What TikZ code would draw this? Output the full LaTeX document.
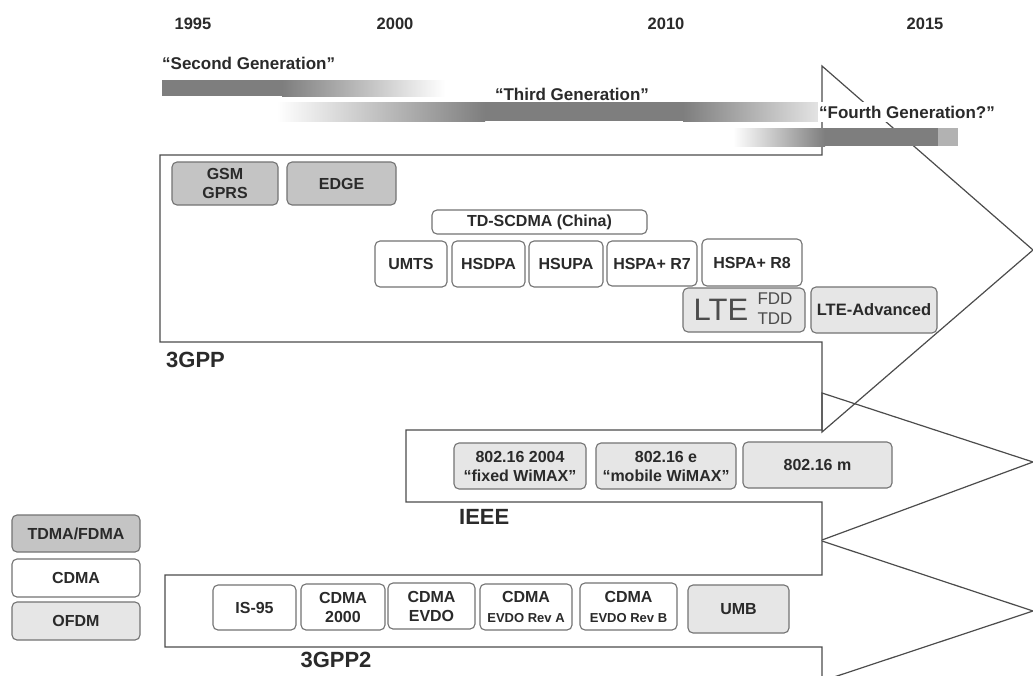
\documentclass[tikz,border=0pt]{standalone}
\usepackage{fontspec}
\setmainfont{Liberation Sans}
\definecolor{gdark}{HTML}{C4C4C4}
\definecolor{glight}{HTML}{E6E6E6}
\definecolor{gbar}{HTML}{7E7E7E}
\definecolor{txt}{HTML}{2A2A2A}
\newcommand{\bx}[7]{%
  \node[box, fill=#6, minimum width={(#4-#2)*1pt}, minimum height={(#5-#3)*1pt}] (#1) at ({(#2+#4)/2},{(#3+#5)/2}) {#7};}
\begin{document}
\begin{tikzpicture}[x=1pt,y=-1pt,
  outline/.style={draw=black!70, line width=1.2pt, line join=miter},
  box/.style={draw=black!55, line width=1.1pt, rounded corners=5pt, inner sep=0pt, align=center, text=txt, font=\fontsize{16}{19}\selectfont\bfseries},
  yearlab/.style={font=\fontsize{16.5}{18}\selectfont\bfseries, text=txt, inner sep=0pt},
  genlab/.style={font=\fontsize{17}{19}\selectfont\bfseries, text=txt, inner sep=1pt},
  grouplab/.style={font=\fontsize{22}{24}\selectfont\bfseries, text=txt, inner sep=0pt},
]
\fill[white] (0,0) rectangle (1033,675);
\useasboundingbox (0,0) rectangle (1033,675);
\clip (0,0) rectangle (1033,675);

% big arrows
\draw[outline] (160,155) -- (822,155) -- (822,66) -- (1033,250) -- (822,432) -- (822,342) -- (160,342) -- cycle;
\draw[outline] (406,430) -- (822,430) -- (822,393) -- (1033,462) -- (822,540) -- (822,502) -- (406,502) -- cycle;
\draw[outline] (165,575) -- (822,575) -- (822,541) -- (1033,611) -- (822,681) -- (822,647) -- (165,647) -- cycle;

% years
\node[yearlab] (y1995) at (193,24) {1995};
\node[yearlab] (y2000) at (395,24) {2000};
\node[yearlab] (y2010) at (666,24) {2010};
\node[yearlab] (y2015) at (925,24) {2015};

% generation bars
\fill[gbar] (162,80) rectangle (282,96);
\shade[left color=gbar, right color=white] (282,80) rectangle (445,96);
\shade[left color=white, right color=gbar] (277,102) rectangle (485,121);
\fill[gbar] (485,102) rectangle (683,121);
\shade[left color=gbar, right color=black!10] (683,102) rectangle (821,121);
\shade[left color=white, right color=gbar] (733,128) rectangle (825,146);
\fill[gbar] (825,128) rectangle (938,146);
\fill[black!30] (938,128) rectangle (958,146);

\node[genlab, anchor=west] (g2) at (161,63) {“Second Generation”};
\node[genlab] (g3) at (572,94) {“Third Generation”};
\node[genlab, anchor=west, fill=white, inner ysep=4pt] (g4) at (818,112) {“Fourth Generation?”};

% 3GPP
\bx{gsm}{172}{162}{278}{205}{gdark}{\fontsize{16}{17.5}\selectfont GSM\\GPRS}
\bx{edge}{287}{162}{396}{205}{gdark}{EDGE}
\bx{tdscdma}{432}{210}{647}{234}{white}{TD-SCDMA (China)}
\bx{umts}{375}{241}{447}{287}{white}{UMTS}
\bx{hsdpa}{452}{241}{525}{287}{white}{HSDPA}
\bx{hsupa}{529}{241}{603}{287}{white}{HSUPA}
\bx{hspar7}{607}{241}{697}{286}{white}{HSPA+ R7}
\bx{hspar8}{702}{239}{802}{286}{white}{HSPA+ R8}
\bx{lte}{683}{288}{805}{332}{glight}{}
\node[font=\fontsize{31}{31}\selectfont, text=black!70, inner sep=0pt] (ltetxt) at (721,310) {LTE};
\node[font=\fontsize{17}{20}\selectfont, text=black!70, inner sep=0pt, align=center] (ltemode) at (775,309) {FDD\\TDD};
\bx{lteadv}{811}{287}{937}{333}{glight}{\fontsize{16.5}{19}\selectfont LTE-Advanced}
\node[grouplab, anchor=west] (l3gpp) at (166,360) {3GPP};

% IEEE
\bx{w2004}{454}{443}{586}{489}{glight}{802.16 2004\\“fixed WiMAX”}
\bx{w16e}{596}{443}{736}{489}{glight}{802.16 e\\“mobile WiMAX”}
\bx{w16m}{743}{442}{892}{488}{glight}{802.16 m}
\node[grouplab, anchor=west] (lieee) at (459,517) {IEEE};

% 3GPP2
\bx{is95}{213}{585}{296}{630}{white}{IS-95}
\bx{cdma2000}{301}{584}{385}{630}{white}{\fontsize{16}{21}\selectfont CDMA\\2000}
\bx{evdo}{388}{583}{475}{629}{white}{\fontsize{16}{21}\selectfont CDMA\\EVDO}
\bx{evdoa}{480}{584}{572}{630}{white}{CDMA\\[1pt]{\fontsize{13}{15}\selectfont EVDO Rev A}}
\bx{evdob}{580}{583}{677}{630}{white}{CDMA\\[1pt]{\fontsize{13}{15}\selectfont EVDO Rev B}}
\bx{umb}{688}{585}{789}{633}{glight}{UMB}
\node[grouplab] (l3gpp2) at (336,660) {3GPP2};

% legend
\bx{legtdma}{12}{515}{140}{552}{gdark}{TDMA/FDMA}
\bx{legcdma}{12}{559}{140}{597}{white}{CDMA}
\bx{legofdm}{12}{602}{140}{640}{glight}{OFDM}
\end{tikzpicture}
\end{document}
